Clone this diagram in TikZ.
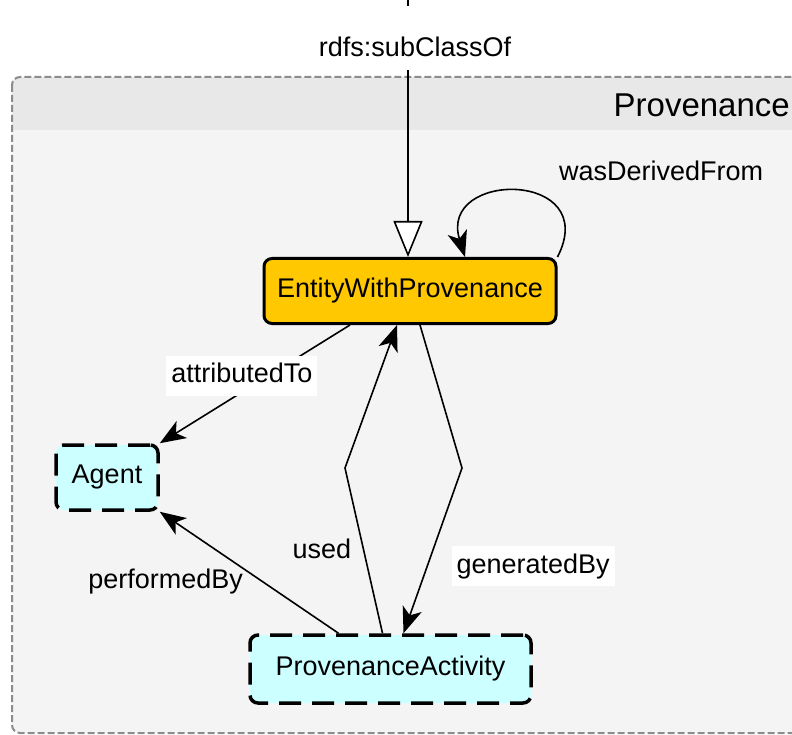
\documentclass[tikz,border=0pt]{standalone}
\usepackage{fontspec}
\setmainfont{Liberation Sans}
\usetikzlibrary{arrows.meta}
\definecolor{entityfill}{HTML}{FFC800}
\definecolor{agentfill}{HTML}{CCFFFF}
\definecolor{groupbody}{HTML}{F4F4F4}
\definecolor{grouphead}{HTML}{E8E8E8}
\definecolor{groupline}{HTML}{8C8C8C}
\tikzset{%
	cls/.style={draw, rectangle, rounded corners=8pt, line width=3pt, fill=entityfill,%
		font=\fontsize{27}{32}\selectfont, inner sep=0pt},
	ext/.style={fill=agentfill, line width=3.5pt, dash pattern=on 22pt off 11pt},
	relation/.style={line width=1.6pt, -{Stealth[length=26pt, width=20pt, inset=7pt]}},
	subcls/.style={line width=1.6pt, -{Triangle[length=36pt, width=29pt, fill=white]}},
	lbl/.style={font=\fontsize{27}{32}\selectfont, text height=20pt, text depth=6pt,%
		inner xsep=5pt, inner ysep=7pt},
	boxed/.style={fill=white}
}
\begin{document}
\begin{tikzpicture}[x=1pt, y=-1pt]
	\useasboundingbox (0,0) rectangle (792,735);
	\clip (0,0) rectangle (792,735);

	%group
	\begin{scope}
		\clip[rounded corners=8pt] (12,77) rectangle (840,733);
		\fill[groupbody] (12,77) rectangle (840,733);
		\fill[grouphead] (12,77) rectangle (840,130);
	\end{scope}
	\draw[groupline, line width=2pt, dash pattern=on 7pt off 3pt, rounded corners=8pt] (12,77) rectangle (840,733);
	\node[anchor=base east, inner sep=0pt, font=\fontsize{33}{40}\selectfont] (group) at (790,117) {Provenance};

	%classes
	\node[cls, minimum width=292pt, minimum height=65pt] (ewp) at (410,291) {EntityWithProvenance};
	\node[cls, ext, minimum width=102pt, minimum height=65pt] (agent) at (107,477.5) {Agent};
	\node[cls, ext, minimum width=281pt, minimum height=68pt] (act) at (390.5,669) {ProvenanceActivity};

	\coordinate (top) at (408,0);
	\coordinate (usedbend) at (345,468);
	\coordinate (genbend) at (462,468);

	%relations
	\draw[subcls] (top) to node[lbl, boxed, pos=0.147, xshift=7pt, text height=50pt, text depth=12pt, inner ysep=1pt] (sc) {rdfs:subClassOf} ([xshift=-2pt]ewp.north);
	\draw[relation] (ewp.north east) .. controls (602,170) and (438,170) .. ([xshift=55pt]ewp.north)
		node[lbl, pos=0.3, xshift=109pt, yshift=29pt] (wdf) {wasDerivedFrom};
	\draw[relation] ([xshift=-60pt]ewp.south) -- (agent.north east)
		node[lbl, boxed, pos=0.568, yshift=16.5pt] (at) {attributedTo};
	\draw[relation] ([xshift=-52pt]act.north) -- (agent.south east)
		node[lbl, pos=0.424, xshift=-97pt] (pb) {performedBy};
	\draw[relation] ([xshift=-8pt]act.north) -- (usedbend)
		node[lbl, pos=0.497, xshift=-42pt] (u) {used} -- ([xshift=-13pt]ewp.south);
	\draw[relation] ([xshift=10pt]ewp.south) -- (genbend) -- ([xshift=13pt]act.north)
		node[lbl, boxed, pos=0.596, xshift=106pt] (gb) {generatedBy};

\end{tikzpicture}
\end{document}
